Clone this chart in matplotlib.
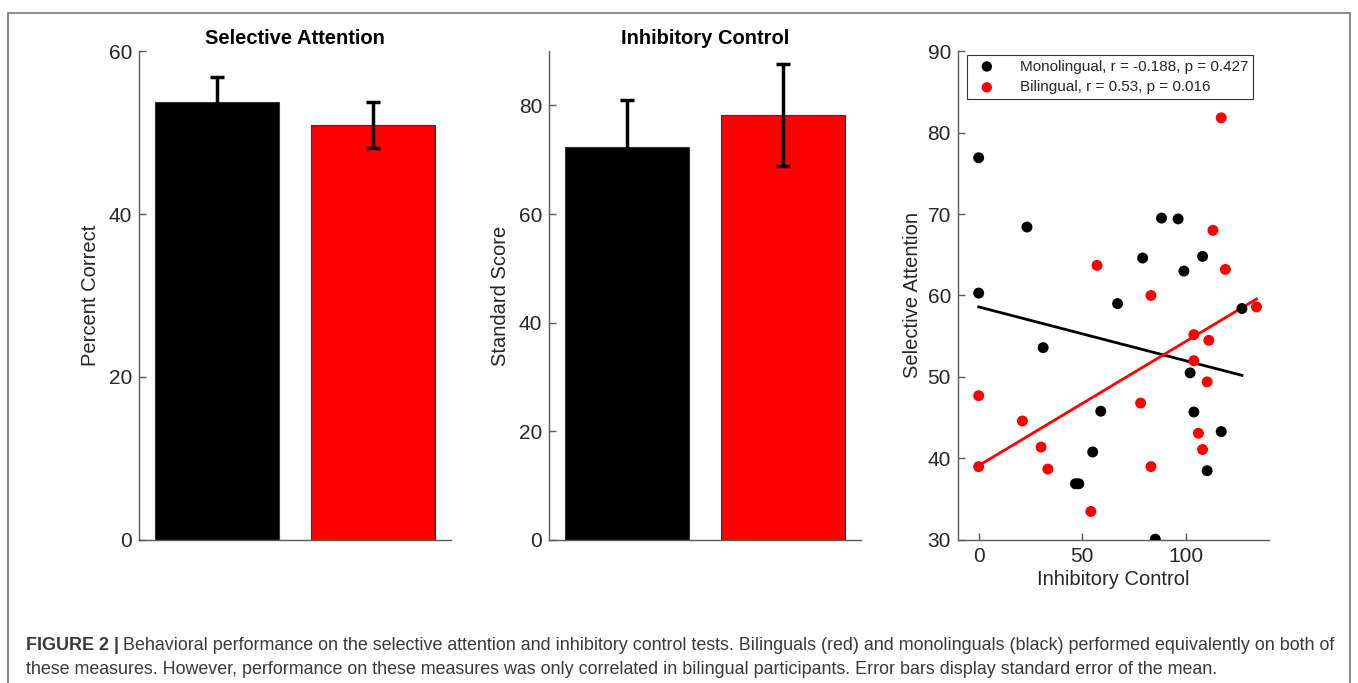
import matplotlib
matplotlib.use('Agg')
import matplotlib.pyplot as plt
import numpy as np
from matplotlib.patches import Rectangle

plt.rcParams['font.family'] = ['Liberation Sans', 'DejaVu Sans']

# bar data: monolingual (black), bilingual (red)
groups = ['Monolingual', 'Bilingual']
bar_colors = ['#000000', '#ff0000']
sel_att_mean = [53.8, 50.9]
sel_att_sem = [3.0, 2.8]
inh_ctrl_mean = [72.3, 78.3]
inh_ctrl_sem = [8.6, 9.4]

# scatter data (inhibitory control, selective attention)
mono_ic = [0, 23.3, 88.2, 96.2, 79.1, 99, 108, 0, 67, 31.1,
           127, 102, 103.8, 58.9, 117, 55, 110.2, 46.7, 48.3, 85.2]
mono_sa = [76.9, 68.4, 69.5, 69.4, 64.6, 63.0, 64.8, 60.3, 59.0, 53.6,
           58.4, 50.5, 45.7, 45.8, 43.3, 40.8, 38.5, 36.9, 36.9, 30.1]
bil_ic = [117, 113, 57.1, 119, 83.1, 134, 103.8, 111, 103.8, 110.2,
          0, 78.1, 21.1, 106, 30.1, 108, 0, 33.4, 83.1, 54.1]
bil_sa = [81.8, 68.0, 63.7, 63.2, 60.0, 58.6, 55.2, 54.5, 52.0, 49.4,
          47.7, 46.8, 44.6, 43.1, 41.4, 41.1, 39.0, 38.7, 39.0, 33.5]
legend_labels = ['Monolingual, r = -0.188, p = 0.427',
                 'Bilingual, r = 0.53, p = 0.016']

text_col = '#262626'
axis_col = '#5a5a5a'
tick_size = 15
label_size = 14.5

fig = plt.figure(figsize=(13.58, 6.83), dpi=100)

bottom, height = 0.2094, 0.7159


def style_axes(ax):
    for s in ['top', 'right']:
        ax.spines[s].set_visible(False)
    for s in ['left', 'bottom']:
        ax.spines[s].set_color(axis_col)
        ax.spines[s].set_linewidth(1.0)
    ax.tick_params(direction='in', length=5, width=1, colors=axis_col,
                   labelcolor=text_col, labelsize=tick_size, pad=5)


def bar_panel(left, means, sems, ylim, yticks, ylabel, title):
    ax = fig.add_axes([left, bottom, 0.2297, height])
    x = np.arange(1, len(means) + 1)
    ax.bar(x, means, width=0.8, color=bar_colors, edgecolor='#333333', linewidth=0.8)
    ax.errorbar(x, means, yerr=sems, fmt='none', ecolor='black',
                elinewidth=2.5, capsize=5, capthick=2.5)
    ax.set_xlim(0.5, 2.5)
    ax.set_ylim(*ylim)
    ax.set_xticks([])
    ax.set_yticks(yticks)
    ax.set_ylabel(ylabel, fontsize=label_size, color=text_col, labelpad=6)
    ax.set_title(title, fontsize=14.5, fontweight='bold', color='black', pad=5)
    style_axes(ax)
    return ax


bar_panel(0.1024, sel_att_mean, sel_att_sem, (0, 60), [0, 20, 40, 60],
          'Percent Correct', 'Selective Attention')
bar_panel(0.4043, inh_ctrl_mean, inh_ctrl_sem, (0, 90), [0, 20, 40, 60, 80],
          'Standard Score', 'Inhibitory Control')

# correlation panel
ax3 = fig.add_axes([0.7054, bottom, 0.229, height])
for xs, ys, c, lab in [(mono_ic, mono_sa, bar_colors[0], legend_labels[0]),
                       (bil_ic, bil_sa, bar_colors[1], legend_labels[1])]:
    xs = np.array(xs)
    ys = np.array(ys)
    ax3.scatter(xs, ys, s=62, color=c, edgecolors='none', label=lab, zorder=3)
    k, b = np.polyfit(xs, ys, 1)
    xl = np.array([xs.min(), xs.max()])
    ax3.plot(xl, k * xl + b, color=c, linewidth=2, zorder=2)

ax3.set_xlim(-10, 140)
ax3.set_ylim(30, 90)
ax3.set_xticks([0, 50, 100])
ax3.set_yticks(np.arange(30, 91, 10))
ax3.set_xlabel('Inhibitory Control', fontsize=label_size, color=text_col, labelpad=3)
ax3.set_ylabel('Selective Attention', fontsize=label_size, color=text_col, labelpad=4)
style_axes(ax3)
leg = ax3.legend(loc='upper left', bbox_to_anchor=(0.029, 0.992), fontsize=11,
                 frameon=True, fancybox=False, edgecolor='black',
                 borderpad=0.3, handletextpad=1.2, borderaxespad=0, labelspacing=0.45,
                 markerscale=0.95, handlelength=2.0)
leg.get_frame().set_linewidth(0.8)
for t in leg.get_texts():
    t.set_color(text_col)

# outer figure border
fig.patches.append(Rectangle((8 / 1358, -0.2), 1342 / 1358, 1.2 - 13 / 683,
                             transform=fig.transFigure, fill=False,
                             edgecolor='#777777', linewidth=1.2))

# caption
cap_col = '#3a3a3a'
cap_size = 12.9
x0 = 26 / 1358
t1 = fig.text(x0, 1 - 650 / 683, 'FIGURE 2 |', fontsize=cap_size, fontweight='bold',
              color=cap_col, va='baseline')
fig.canvas.draw()
bb = t1.get_window_extent(renderer=fig.canvas.get_renderer())
x1 = (bb.x1 + 4) / fig.bbox.width
fig.text(x1, 1 - 650 / 683,
         'Behavioral performance on the selective attention and inhibitory control tests. '
         'Bilinguals (red) and monolinguals (black) performed equivalently on both of',
         fontsize=cap_size, color=cap_col, va='baseline')
fig.text(x0, 1 - 674 / 683,
         'these measures. However, performance on these measures was only correlated in '
         'bilingual participants. Error bars display standard error of the mean.',
         fontsize=cap_size, color=cap_col, va='baseline')

fig.savefig('out.png', dpi=100)
